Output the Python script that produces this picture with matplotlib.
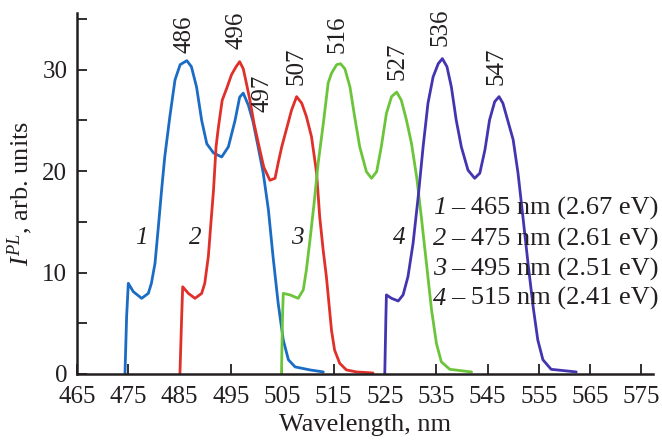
import matplotlib
matplotlib.use("Agg")
import matplotlib.pyplot as plt
from matplotlib.ticker import MultipleLocator, FixedLocator

plt.rcParams['font.family'] = ['Liberation Serif', 'DejaVu Serif']
plt.rcParams['mathtext.fontset'] = 'custom'
plt.rcParams['mathtext.rm'] = 'Liberation Serif'
plt.rcParams['mathtext.it'] = 'Liberation Serif:italic'

# Curve 1 (excitation 465 nm)
x1 = [474.35, 474.67, 475.0, 475.97, 477.6, 478.9, 479.5, 480.2, 480.8, 481.5, 482.1, 483.1, 484.1, 485.1,
      486.4, 487.3, 488.3, 489.3, 490.3, 491.6, 493.2, 494.5, 495.8, 496.7, 497.4, 498.4, 499.3, 500.3,
      501.3, 502.3, 503.2, 504.2, 505.2, 506.2, 507.5, 510.4, 513.0]
y1 = [0.0, 5.65, 8.94, 8.12, 7.46, 7.95, 8.94, 10.9, 14.2, 18.2, 21.4, 25.4, 29.0, 30.5,
      30.9, 30.3, 28.3, 25.0, 22.7, 21.8, 21.4, 22.4, 25.0, 27.3, 27.7, 26.5, 24.9, 22.4,
      19.8, 16.2, 11.6, 7.0, 3.35, 1.4, 0.7, 0.4, 0.2]

# Curve 2 (excitation 475 nm)
x2 = [485.06, 485.4, 485.6, 486.7, 488.0, 489.3, 489.9, 490.6, 491.1, 491.6, 492.1, 492.5, 492.85, 493.3,
      494.2, 495.1, 496.0, 496.7, 497.4, 498.0, 498.7, 499.5, 500.5, 501.4, 502.6, 503.6, 504.2, 504.9,
      505.8, 506.8, 507.8, 508.8, 509.7, 510.7, 511.7, 512.3, 512.98, 513.6, 514.1, 514.6, 515.2, 516.2,
      517.5, 519.5, 522.7]
y2 = [0.0, 5.65, 8.6, 7.95, 7.46, 7.95, 8.94, 11.6, 14.9, 18.1, 22.4, 24.1, 25.4, 27.0,
      28.2, 29.5, 30.3, 30.8, 30.1, 28.7, 27.0, 24.7, 22.4, 20.4, 19.1, 19.3, 20.8, 22.4,
      24.1, 26.0, 27.35, 26.7, 25.4, 23.4, 19.8, 15.5, 12.2, 9.6, 6.97, 4.3, 2.36, 1.05,
      0.4, 0.2, 0.1]

# Curve 3 (excitation 495 nm)
x3 = [504.85, 505.05, 505.2, 506.5, 508.1, 509.1, 509.7, 510.4, 511.2, 512.0, 513.0, 513.95, 514.6, 515.6,
      516.35, 517.2, 518.2, 519.1, 520.1, 521.4, 522.4, 523.4, 524.3, 525.3, 526.3, 527.3, 528.2, 529.2,
      530.2, 531.2, 532.1, 533.1, 534.1, 535.05, 536.0, 537.65, 541.9]
y3 = [0.0, 5.65, 7.95, 7.8, 7.46, 8.3, 10.25, 13.2, 16.8, 20.8, 24.7, 28.7, 29.65, 30.5,
      30.6, 30.1, 28.3, 25.4, 22.4, 19.95, 19.3, 19.95, 22.4, 25.7, 27.35, 27.8, 27.0, 25.05,
      22.7, 19.4, 15.5, 10.9, 6.3, 3.0, 1.2, 0.46, 0.2]

# Curve 4 (excitation 515 nm)
x4 = [524.98, 525.2, 525.3, 526.3, 527.6, 528.55, 529.5, 530.5, 531.5, 532.45, 533.4, 534.4, 535.4, 536.2,
      537.1, 537.96, 538.9, 539.9, 541.2, 542.5, 543.5, 544.5, 545.4, 546.4, 547.25, 548.0, 549.0, 550.0,
      550.95, 551.9, 552.9, 553.9, 554.8, 555.8, 557.4, 562.3]
y4 = [0.0, 5.65, 7.8, 7.46, 7.2, 7.8, 9.6, 12.9, 17.5, 22.4, 26.7, 29.3, 30.6, 31.1,
      30.3, 28.3, 25.05, 22.4, 20.1, 19.3, 19.8, 22.1, 25.05, 26.85, 27.35, 26.7, 24.9, 23.1,
      19.8, 15.5, 10.9, 6.6, 3.35, 1.4, 0.46, 0.2]

colors = ['#1b6cc4', '#e0302a', '#6cc43a', '#4335b0']

peak_labels = ['486', '496', '497', '507', '516', '527', '536', '547']
peak_label_x = [486.0, 496.0, 501.2, 507.8, 515.8, 527.5, 535.9, 546.8]
peak_label_y = [31.7, 32.0, 25.8, 28.5, 31.7, 29.0, 32.3, 28.5]

curve_nums = ['1', '2', '3', '4']
curve_num_x = [477.5, 488.0, 507.9, 527.7]
curve_num_y = [13.4, 13.4, 13.4, 13.4]

legend_lines = ['– 465 nm (2.67 eV)', '– 475 nm (2.61 eV)', '– 495 nm (2.51 eV)', '– 515 nm (2.41 eV)']
legend_y = [16.35, 13.3, 10.35, 7.4]

xticks = list(range(465, 576, 10))

fig = plt.figure(figsize=(6.62, 4.43), dpi=100)
ax = fig.add_axes([0.1163, 0.1558, 0.8697, 0.8149])

for xs, ys, c in zip([x1, x2, x3, x4], [y1, y2, y3, y4], colors):
    ax.plot(xs, ys, color=c, lw=2.0, solid_joinstyle='round', solid_capstyle='round')

ax.set_xlim(465, 577.2)
ax.set_ylim(0, 35.6)

ax.xaxis.set_major_locator(FixedLocator(xticks))
ax.yaxis.set_major_locator(MultipleLocator(10))
ax.yaxis.set_minor_locator(FixedLocator([5, 15, 25, 35]))
ax.tick_params(axis='both', which='both', direction='in', length=7, width=1.3,
               color='#231f20', labelsize=18, labelcolor='#231f20')
ax.tick_params(axis='x', pad=9)
ax.tick_params(axis='y', pad=7)

for s in ['top', 'right']:
    ax.spines[s].set_visible(False)
for s in ['left', 'bottom']:
    ax.spines[s].set_linewidth(1.8)
    ax.spines[s].set_color('#231f20')

ax.set_xlabel('Wavelength, nm', fontsize=19, color='#231f20', labelpad=4)
ax.set_ylabel(r'$I^{PL}$, arb. units', fontsize=19, color='#231f20', labelpad=5)

for t, xx, yy in zip(peak_labels, peak_label_x, peak_label_y):
    ax.text(xx, yy, t, rotation=90, ha='center', va='bottom', fontsize=18, color='#231f20')

for t, xx, yy in zip(curve_nums, curve_num_x, curve_num_y):
    ax.text(xx, yy, t, ha='center', va='center', fontsize=18, style='italic', color='#231f20')

for n, t, yy in zip(curve_nums, legend_lines, legend_y):
    ax.text(534.3, yy, n, ha='left', va='center', fontsize=19, style='italic', color='#231f20')
    ax.text(537.9, yy, t, ha='left', va='center', fontsize=19, color='#231f20')

fig.savefig('out.png', dpi=100)
